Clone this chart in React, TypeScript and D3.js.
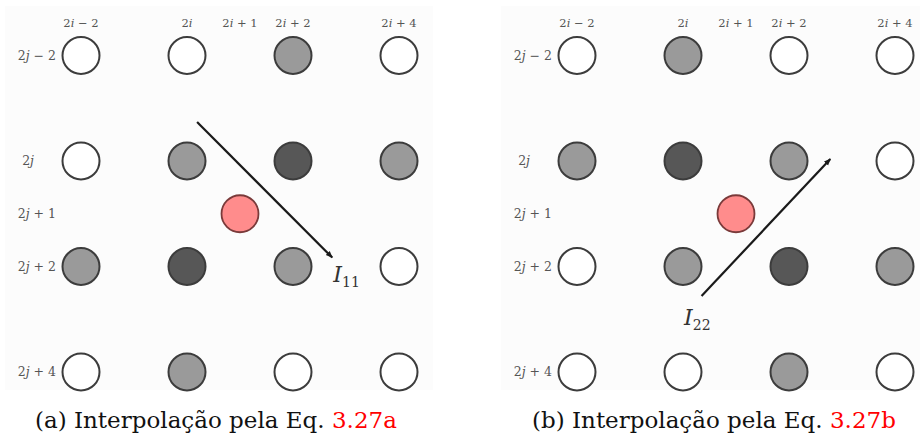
import React from "react";
import * as d3 from "d3";

// column offsets (2i + k) and row offsets (2j + k)
const colOffsets = [-2, 0, 1, 2, 4];
const rowOffsets = [-2, 0, 1, 2, 4];
const gridCols = [-2, 0, 2, 4];
const gridRows = [-2, 0, 2, 4];

// shade codes: 0 = white, 1 = mid gray, 2 = dark gray ; rows top→bottom
const shadesA = [
  [0, 0, 1, 0],
  [0, 1, 2, 1],
  [1, 2, 1, 0],
  [0, 1, 0, 0],
];
const shadesB = [
  [0, 1, 0, 0],
  [1, 2, 1, 0],
  [0, 1, 2, 1],
  [0, 0, 1, 0],
];
const centerPoint = { c: 1, r: 1 };

// arrows in grid units [x1, y1, x2, y2], head at (x2, y2)
const arrowA = [0.19, -0.74, 2.74, 1.83];
const arrowB = [0.35, 2.56, 2.78, -0.04];
const labelA = { text: "I", sub: "11", c: 2.76, r: 2.3 };
const labelB = { text: "I", sub: "22", c: 0.02, r: 3.1 };

const captionA = { pre: "(a) Interpolação pela Eq. ", ref: "3.27a" };
const captionB = { pre: "(b) Interpolação pela Eq. ", ref: "3.27b" };

const fills = ["#ffffff", "#9a9a9a", "#575757"];
const serif = "DejaVu Serif";

function colLabel(k: number) {
  if (k === 0) return [["2", false], ["i", true]] as [string, boolean][];
  const sign = k < 0 ? " − " : " + ";
  return [["2", false], ["i", true], [sign + Math.abs(k), false]] as [string, boolean][];
}
function rowLabel(k: number) {
  if (k === 0) return [["2", false], ["j", true]] as [string, boolean][];
  const sign = k < 0 ? " − " : " + ";
  return [["2", false], ["j", true], [sign + Math.abs(k), false]] as [string, boolean][];
}

function Panel({ x0, shades, arrow, label, id, rowLabelEnd }: any) {
  const x = d3.scaleLinear().domain([0, 2]).range([x0, x0 + 106]);
  const y = d3.scaleLinear().domain([0, 2]).range([161, 266.5]);
  const r = 18.5;
  const [ax1, ay1, ax2, ay2] = arrow;
  return (
    <g>
      <rect x={x(-2) - 76} y={6} width={x(4) - x(-2) + 110} height={384} fill="#fcfcfc" />
      {colOffsets.map((k) => (
        <text key={"c" + k} x={x(k)} y={27} textAnchor="middle" fontFamily={serif} fontSize={11.5} fill="#555">
          {colLabel(k).map(([t, it], i) => (
            <tspan key={i} fontStyle={it ? "italic" : "normal"}>{t}</tspan>
          ))}
        </text>
      ))}
      {rowOffsets.map((k) => (
        <text key={"r" + k} x={k === 0 ? rowLabelEnd - 22 : rowLabelEnd} y={y(k) + 4} textAnchor="end" fontFamily={serif} fontSize={12.5} fill="#555">
          {rowLabel(k).map(([t, it], i) => (
            <tspan key={i} fontStyle={it ? "italic" : "normal"}>{t}</tspan>
          ))}
        </text>
      ))}
      {gridRows.map((rk, ri) =>
        gridCols.map((ck, ci) => (
          <circle key={ri + "-" + ci} cx={x(ck)} cy={y(rk)} r={r} fill={fills[shades[ri][ci]]} stroke="#3c3c3c" strokeWidth={2} />
        ))
      )}
      <circle cx={x(centerPoint.c)} cy={y(centerPoint.r)} r={r} fill="#ff8c8c" stroke="#7a3a3a" strokeWidth={1.8} />
      <defs>
        <marker id={id} viewBox="0 0 10 10" refX={9} refY={5} markerWidth={7} markerHeight={7} orient="auto" markerUnits="userSpaceOnUse">
          <path d="M0,1 L10,5 L0,9 Z" fill="#1a1a1a" />
        </marker>
      </defs>
      <line x1={x(ax1)} y1={y(ay1)} x2={x(ax2)} y2={y(ay2)} stroke="#1a1a1a" strokeWidth={2.2} markerEnd={`url(#${id})`} />
      <text x={x(label.c)} y={y(label.r)} fontFamily={serif} fontSize={22} fill="#333">
        <tspan fontStyle="italic">{label.text}</tspan>
        <tspan fontSize={14} dy={5}>{label.sub}</tspan>
      </text>
    </g>
  );
}

function Caption({ x, cap }: any) {
  return (
    <text x={x} y={428} fontFamily={serif} fontSize={23} fill="#111">
      <tspan>{cap.pre}</tspan>
      <tspan fill="#ff0000">{cap.ref}</tspan>
    </text>
  );
}

export default function App() {
  return (
    <svg width={920} height={438} style={{ position: "absolute", left: 0, top: 0, background: "#fff" }}>
      <Panel x0={187} shades={shadesA} arrow={arrowA} label={labelA} id="arrA" rowLabelEnd={56} />
      <Panel x0={683} shades={shadesB} arrow={arrowB} label={labelB} id="arrB" rowLabelEnd={552} />
      <Caption x={35} cap={captionA} />
      <Caption x={532} cap={captionB} />
    </svg>
  );
}
